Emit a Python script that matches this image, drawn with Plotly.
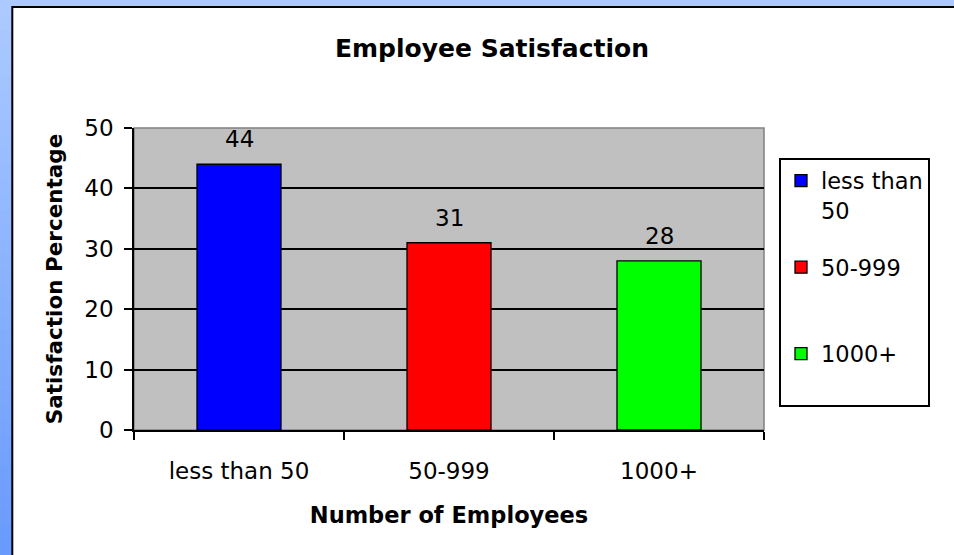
import plotly.graph_objects as go

categories = ["less than 50", "50-999", "1000+"]
values = [44, 31, 28]
bar_colors = ["#0000FF", "#FF0000", "#00FF00"]
legend_names = ["less than<br>50", "50-999<br>\u00a0", "1000+<br>\u00a0"]
y_ticks = [0, 10, 20, 30, 40, 50]

W, H = 954, 555
L, R, T, B = 134, 190, 128, 125
PW, PH = W - L - R, H - T - B


def px_x(p):
    return (p - L) / PW


def px_y(p):
    return (H - B - p) / PH


FONT = "DejaVu Sans"

fig = go.Figure()
for cat, val, col, nm in zip(categories, values, bar_colors, legend_names):
    fig.add_trace(go.Bar(
        x=[cat], y=[val], name=nm, legendgroup=cat,
        marker=dict(color=col, line=dict(color="black", width=1.3)),
        width=0.4, hoverinfo="skip",
    ))

shapes = []
# blue gradient background (strips)
n = 37
top_c = (172, 202, 255)
bot_c = (104, 154, 255)
for i in range(n):
    t = i / (n - 1)
    c = tuple(int(round(top_c[k] + (bot_c[k] - top_c[k]) * t)) for k in range(3))
    y_top = i * H / n
    y_bot = (i + 1) * H / n + 1
    shapes.append(dict(type="rect", xref="paper", yref="paper", layer="below",
                       x0=px_x(-5), x1=px_x(W + 5), y0=px_y(y_bot), y1=px_y(y_top),
                       fillcolor="rgb(%d,%d,%d)" % c, line=dict(width=0)))
# white chart area
shapes.append(dict(type="rect", xref="paper", yref="paper", layer="below",
                   x0=px_x(12.3), x1=px_x(W + 20), y0=px_y(H + 20), y1=px_y(7),
                   fillcolor="white", line=dict(color="black", width=2)))
# grey plot area
shapes.append(dict(type="rect", xref="paper", yref="paper", layer="below",
                   x0=0, x1=1, y0=0, y1=1,
                   fillcolor="#C0C0C0", line=dict(color="#808080", width=1.5)))

annotations = []
for cat, val in zip(categories, values):
    annotations.append(dict(x=cat, y=val, xref="x", yref="y", text=str(val),
                            showarrow=False, yanchor="bottom", yshift=10,
                            font=dict(family=FONT, size=23, color="black")))

fig.update_layout(
    width=W, height=H,
    margin=dict(l=L, r=R, t=T, b=B, pad=0),
    paper_bgcolor="rgb(172,202,255)",
    plot_bgcolor="rgba(0,0,0,0)",
    barmode="overlay",
    shapes=shapes,
    annotations=annotations,
    title=dict(text="Employee Satisfaction", xref="paper", x=px_x(492), xanchor="center",
               yref="container", y=1 - 48 / H, yanchor="middle",
               font=dict(family=FONT, size=25, color="black", weight="bold")),
    showlegend=True,
    legend=dict(x=px_x(779), xanchor="left", y=px_y(282), yanchor="middle",
                bgcolor="white", bordercolor="black", borderwidth=2,
                font=dict(family=FONT, size=22.5, color="black"),
                tracegroupgap=25, valign="top", traceorder="grouped"),
    xaxis=dict(type="category", categoryorder="array", categoryarray=categories,
               showgrid=False, showline=True, linecolor="black", linewidth=1.5,
               ticks="outside", tickson="boundaries", ticklen=8, tickwidth=1.5,
               tickcolor="black", ticklabelstandoff=20,
               tickfont=dict(family=FONT, size=23, color="black"),
               title=dict(text="Number of Employees", standoff=24,
                          font=dict(family=FONT, size=22.5, color="black", weight="bold"))),
    yaxis=dict(range=[0, 50], tickvals=y_ticks, showgrid=True, gridcolor="black",
               gridwidth=1.5, showline=True, linecolor="black", linewidth=1.5,
               ticks="outside", ticklen=8, tickwidth=1.5, tickcolor="black",
               ticklabelstandoff=6, zeroline=False,
               tickfont=dict(family=FONT, size=23, color="black"),
               title=dict(text="Satisfaction Percentage", standoff=16,
                          font=dict(family=FONT, size=21.5, color="black", weight="bold"))),
)

fig.write_html("out.html")
